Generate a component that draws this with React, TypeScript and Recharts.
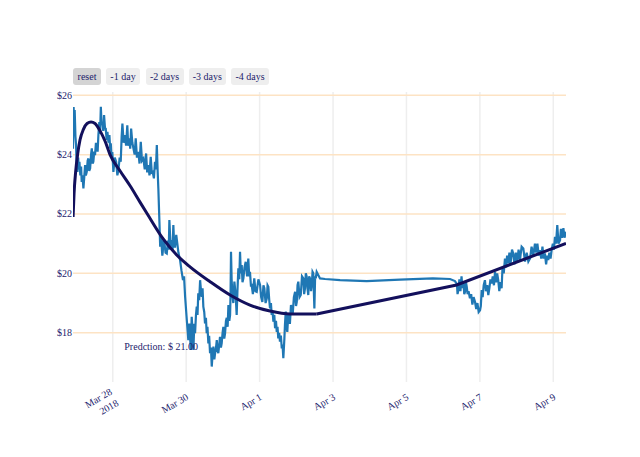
import React from 'react';
import { LineChart, Line, XAxis, YAxis, CartesianGrid, ReferenceDot } from 'recharts';

// hours since Mar 28 2018 00:00, price in $
const priceSeries: [number, number][] = [
  [-26.0, 24.2], [-25.6, 25.6], [-25.3, 25.1], [-24.9, 25.5], [-24.4, 24.6], [-24.0, 24.32],
  [-23.6, 23.6], [-23.1, 23.42], [-22.6, 23.9], [-22.2, 23.5], [-21.8, 23.76], [-21.2, 23.3],
  [-20.7, 23.6], [-20.3, 23.08], [-19.8, 23.3], [-19.2, 22.86], [-18.7, 23.2], [-18.1, 23.65],
  [-17.6, 23.3], [-17.0, 23.42], [-16.4, 23.8], [-15.9, 23.87], [-15.4, 23.45], [-14.8, 23.53],
  [-14.2, 24.0], [-13.7, 24.21], [-13.2, 23.7], [-12.7, 23.76], [-12.1, 24.1], [-11.6, 23.98],
  [-11.0, 24.4], [-10.5, 24.32], [-9.9, 24.1], [-9.4, 24.66], [-8.8, 25.1], [-8.3, 24.7],
  [-7.8, 25.61], [-7.3, 25.0], [-6.8, 25.1], [-6.2, 24.8], [-5.7, 25.33], [-5.1, 24.9],
  [-4.6, 24.88], [-4.0, 24.5], [-3.5, 24.77], [-2.8, 24.4], [-2.2, 24.66], [-1.7, 24.2],
  [-1.3, 24.38], [-0.8, 23.9], [-0.3, 24.09], [0.4, 23.42], [1.3, 23.9], [2.2, 23.76],
  [3.0, 23.3], [3.7, 23.48], [4.5, 23.9], [5.2, 23.76], [5.8, 24.6], [6.3, 25.05],
  [7.1, 24.4], [8.0, 24.66], [8.7, 24.3], [9.5, 24.99], [10.1, 24.3], [10.8, 24.55],
  [11.4, 24.2], [12.0, 24.88], [12.8, 24.4], [13.5, 24.21], [14.3, 24.0], [15.0, 24.55],
  [15.8, 23.9], [16.7, 24.09], [17.5, 23.7], [18.3, 24.43], [19.1, 23.8], [20.0, 23.87],
  [20.9, 23.5], [21.8, 24.04], [22.5, 23.4], [23.3, 23.65], [24.0, 23.3], [24.8, 23.93],
  [25.5, 23.4], [26.1, 23.42], [26.9, 23.2], [27.6, 23.76], [28.2, 23.5], [28.8, 24.32],
  [29.3, 23.5], [29.8, 22.86], [30.5, 21.74], [31.0, 20.9], [31.4, 21.18], [32.0, 20.9],
  [32.4, 20.6], [32.7, 20.73], [33.1, 21.12], [33.7, 21.06], [34.5, 20.7], [35.3, 20.67],
  [36.1, 21.1], [36.6, 20.8], [37.0, 21.8], [37.8, 20.9], [38.6, 21.12], [39.1, 20.8],
  [39.6, 21.63], [40.2, 20.9], [40.7, 20.9], [41.5, 21.3], [42.2, 21.0], [42.9, 20.7],
  [43.5, 20.56], [44.0, 20.45], [44.9, 20.1], [45.9, 19.77], [46.6, 19.9], [47.3, 19.21],
  [48.4, 18.43], [49.4, 17.75], [50.1, 18.31], [51.0, 17.42], [51.6, 18.54], [52.2, 18.0],
  [52.7, 17.42], [53.3, 18.3], [53.8, 17.98], [54.4, 18.6], [54.9, 18.88], [55.4, 18.6],
  [55.9, 19.33], [56.5, 19.1], [57.1, 19.77], [57.7, 19.4], [58.2, 19.21], [58.7, 19.5],
  [59.2, 18.88], [59.8, 18.7], [60.3, 18.31], [60.9, 18.5], [61.4, 17.98], [61.9, 18.2],
  [62.5, 17.64], [63.0, 17.9], [63.6, 17.31], [64.2, 17.5], [64.7, 16.86], [65.3, 17.3],
  [65.8, 17.53], [66.4, 17.1], [66.9, 17.31], [67.5, 17.5], [68.0, 17.75], [68.5, 17.4],
  [69.0, 17.31], [69.6, 17.6], [70.1, 17.86], [70.7, 17.5], [71.2, 17.64], [71.8, 18.0],
  [72.3, 18.2], [72.9, 17.8], [73.4, 17.98], [74.0, 18.4], [74.5, 18.5], [75.1, 18.2],
  [75.6, 18.93], [76.2, 18.4], [76.7, 18.6], [77.0, 19.3], [77.3, 20.73], [77.7, 19.8],
  [78.2, 19.27], [78.8, 19.0], [79.5, 19.72], [80.3, 19.3], [81.0, 18.6], [81.5, 19.4],
  [82.1, 20.17], [82.7, 19.8], [83.2, 20.73], [83.7, 20.0], [84.3, 20.28], [84.8, 19.7],
  [85.4, 19.83], [86.1, 20.2], [86.9, 20.39], [87.8, 19.9], [88.6, 20.5], [89.2, 19.9],
  [89.7, 20.05], [90.3, 19.6], [90.8, 19.61], [91.6, 19.3], [92.5, 19.83], [93.3, 19.4],
  [94.1, 19.38], [95.2, 19.8], [96.3, 19.61], [97.0, 19.2], [97.8, 19.04], [98.5, 19.6],
  [99.1, 19.5], [99.9, 19.0], [100.7, 19.16], [101.2, 19.6], [101.7, 19.55], [102.3, 19.1],
  [102.8, 18.82], [103.4, 19.0], [103.9, 18.6], [104.5, 18.7], [105.0, 18.37], [105.6, 18.6],
  [106.1, 18.15], [106.7, 18.4], [107.2, 18.03], [107.7, 18.2], [108.2, 17.81], [108.8, 18.0],
  [109.3, 17.7], [109.9, 17.9], [110.5, 17.47], [111.0, 17.6], [111.5, 17.14], [112.2, 17.81],
  [112.6, 18.3], [113.1, 18.71], [113.6, 18.2], [114.1, 18.03], [114.7, 18.6], [115.2, 18.48],
  [115.8, 18.3], [116.5, 18.93], [117.1, 18.8], [117.6, 18.6], [118.4, 19.2], [119.2, 19.38],
  [119.8, 18.9], [120.3, 19.04], [120.8, 19.6], [121.3, 19.72], [122.1, 19.2], [122.9, 19.27],
  [123.7, 19.9], [124.6, 19.83], [125.1, 19.3], [125.7, 19.5], [126.2, 20.0], [126.8, 19.89],
  [127.3, 19.5], [127.8, 19.27], [128.4, 19.9], [129.0, 19.83], [129.6, 19.4], [130.1, 19.61],
  [130.6, 20.05], [131.1, 20.0], [131.8, 18.82], [132.3, 19.9], [132.7, 19.83], [133.3, 20.05],
  [135.5, 19.83], [138.8, 19.81], [148.6, 19.77], [166.0, 19.74], [187.8, 19.79], [209.3, 19.83],
  [220.5, 19.81], [223.7, 19.74], [225.0, 19.64], [225.4, 19.3], [225.9, 19.44], [226.6, 19.8],
  [227.3, 19.4], [228.0, 19.9], [228.6, 19.5], [229.2, 19.72], [229.8, 19.3], [230.3, 19.38],
  [230.9, 19.7], [231.4, 19.55], [232.0, 19.3], [232.6, 19.4], [233.5, 19.16], [234.3, 19.3],
  [235.1, 18.95], [235.9, 19.2], [236.8, 19.04], [237.6, 18.8], [238.4, 19.0], [239.2, 18.7],
  [240.1, 18.76], [240.6, 18.9], [241.2, 19.44], [241.8, 19.2], [242.5, 19.6], [243.3, 19.77],
  [244.0, 19.4], [244.8, 19.6], [245.5, 19.27], [246.2, 19.5], [246.9, 19.8], [247.7, 19.66],
  [248.4, 19.9], [249.2, 19.6], [249.9, 20.05], [250.6, 19.7], [251.3, 20.0], [252.0, 19.77],
  [252.7, 19.4], [253.5, 19.7], [254.2, 19.5], [254.8, 20.2], [255.6, 20.0], [256.4, 20.5],
  [257.1, 20.2], [257.8, 20.6], [258.6, 20.34], [259.3, 20.7], [260.0, 20.3], [261.0, 20.8],
  [261.8, 20.67], [262.6, 20.3], [263.5, 20.7], [264.4, 20.4], [265.3, 20.8], [266.2, 20.45],
  [267.3, 20.9], [268.4, 20.84], [269.5, 20.4], [270.6, 20.7], [271.7, 20.4], [272.8, 20.5],
  [273.8, 20.9], [274.9, 20.6], [276.0, 21.0], [276.8, 20.7], [277.6, 21.0], [278.5, 20.6],
  [279.3, 20.78], [280.1, 20.5], [280.9, 20.9], [281.7, 20.5], [282.5, 20.67], [283.3, 20.3],
  [284.0, 20.6], [284.7, 20.45], [285.4, 20.7], [286.2, 20.5], [286.9, 20.78], [287.7, 21.0],
  [288.4, 20.8], [289.1, 21.23], [289.8, 21.0], [290.6, 21.63], [291.4, 21.0], [292.4, 21.12],
  [293.0, 21.5], [293.7, 21.2], [294.6, 21.52], [295.3, 21.2], [296.3, 21.4],
];

// fitted curve, then the straight trend after the last real point
const fitCurve: [number, number][] = [
  [-25.95, 21.9], [-25.3, 22.7], [-24.3, 23.4], [-23.0, 24.0], [-21.4, 24.5], [-19.2, 24.85],
  [-16.8, 25.05], [-14.2, 25.1], [-11.6, 25.05], [-8.3, 24.8], [-5.0, 24.45], [-1.8, 24.0],
  [4.8, 23.45], [11.3, 22.95], [17.8, 22.4], [22.6, 22.0], [33.1, 21.15], [41.8, 20.62],
  [50.5, 20.22], [63.6, 19.72], [76.7, 19.27], [89.7, 18.93], [102.8, 18.73], [115.9, 18.63],
  [133.3, 18.63],
];
const fitTrend: [number, number][] = [[133.3, 18.63], [224.8, 19.61], [296.3, 21.01]];

const hourTicks = [0, 48, 96, 144, 192, 240, 288];
const hourLabels = ['Mar 28|2018', 'Mar 30', 'Apr 1', 'Apr 3', 'Apr 5', 'Apr 7', 'Apr 9'];
const priceTicks = [18, 20, 22, 24, 26];
const rangeButtons = ['reset', '-1 day', '-2 days', '-3 days', '-4 days'];
const prediction = { hour: 31.6, price: 17.52, text: 'Predction: $ 21.00' };

const INK = '#1c1c6c';
const FONT = '"Liberation Serif", "Times New Roman", serif';

const toPoints = (s: [number, number][]) => s.map(([t, v]) => ({ t, v }));
const priceData = toPoints(priceSeries);
const curveData = toPoints(fitCurve);
const trendData = toPoints(fitTrend);

const buttonBoxes = [
  { left: 73, width: 28 },
  { left: 106, width: 34 },
  { left: 145.5, width: 38 },
  { left: 188.5, width: 37.5 },
  { left: 231, width: 38 },
];

const XTick = (props: any) => {
  const { x, y, payload } = props;
  const idx = hourTicks.indexOf(payload.value);
  const lines = (hourLabels[idx] || '').split('|');
  return (
    <g transform={`translate(${x + 3},${y + 15}) rotate(-30)`}>
      <text textAnchor="end" fill={INK} fontSize={10} fontFamily={FONT}>
        {lines.map((l, i) => (
          <tspan key={i} x={0} dy={i === 0 ? (lines.length > 1 ? -6 : 0) : 13}>
            {l}
          </tspan>
        ))}
      </text>
    </g>
  );
};

const YTick = (props: any) => {
  const { x, y, payload } = props;
  return (
    <text x={x + 1} y={y} dy={3.5} textAnchor="end" fill={INK} fontSize={10} fontFamily={FONT}>
      ${payload.value}
    </text>
  );
};

const scaleOf = (axis: any) => (v: number) => {
  const s = axis && axis.scale;
  if (!s) return NaN;
  return typeof s === 'function' ? s(v) : s.map ? s.map(v) : NaN;
};

export default function App() {
  return (
    <div style={{ position: 'fixed', left: 0, top: 0, width: 640, height: 457, background: '#fff' }}>
      {rangeButtons.map((b, i) => (
        <div
          key={b}
          style={{
            position: 'absolute',
            left: buttonBoxes[i].left,
            top: 68,
            width: buttonBoxes[i].width,
            height: 17,
            lineHeight: '17px',
            borderRadius: 3,
            background: i === 0 ? '#d4d4d4' : '#eeeeee',
            color: INK,
            fontFamily: FONT,
            fontSize: 10,
            textAlign: 'center',
          }}
        >
          {b}
        </div>
      ))}
      <LineChart width={640} height={457} margin={{ top: 92, right: 74, bottom: 15, left: 33 }}>
        <CartesianGrid
          horizontal={false}
          stroke="#eeeeee"
          strokeWidth={1.5}
          verticalCoordinatesGenerator={({ xAxis }: any) => hourTicks.map(scaleOf(xAxis))}
        />
        <CartesianGrid
          vertical={false}
          stroke="#fde3c4"
          strokeWidth={1.5}
          horizontalCoordinatesGenerator={({ yAxis }: any) => priceTicks.map(scaleOf(yAxis))}
        />
        <XAxis
          type="number"
          dataKey="t"
          domain={[-26, 296.3]}
          ticks={hourTicks}
          axisLine={false}
          tickLine={false}
          tickSize={0}
          height={60}
          tick={<XTick />}
          allowDataOverflow
        />
        <YAxis
          type="number"
          domain={[16.34, 26.11]}
          ticks={priceTicks}
          axisLine={false}
          tickLine={false}
          tickSize={0}
          tickMargin={2}
          width={40}
          tick={<YTick />}
          allowDataOverflow
        />
        <ReferenceDot
          x={prediction.hour}
          y={prediction.price}
          r={0}
          shape={(p: any) => (
            <text x={p.cx} y={p.cy} dy={3.5} textAnchor="middle" fill={INK} fontSize={10} fontFamily={FONT}>
              {prediction.text}
            </text>
          )}
        />
        <Line
          data={priceData}
          dataKey="v"
          type="linear"
          stroke="#1f77b4"
          strokeWidth={2.2}
          dot={false}
          isAnimationActive={false}
        />
        <Line
          data={curveData}
          dataKey="v"
          type="monotone"
          stroke="#13105c"
          strokeWidth={3}
          dot={false}
          isAnimationActive={false}
        />
        <Line
          data={trendData}
          dataKey="v"
          type="linear"
          stroke="#13105c"
          strokeWidth={3}
          dot={false}
          isAnimationActive={false}
        />
      </LineChart>
    </div>
  );
}
